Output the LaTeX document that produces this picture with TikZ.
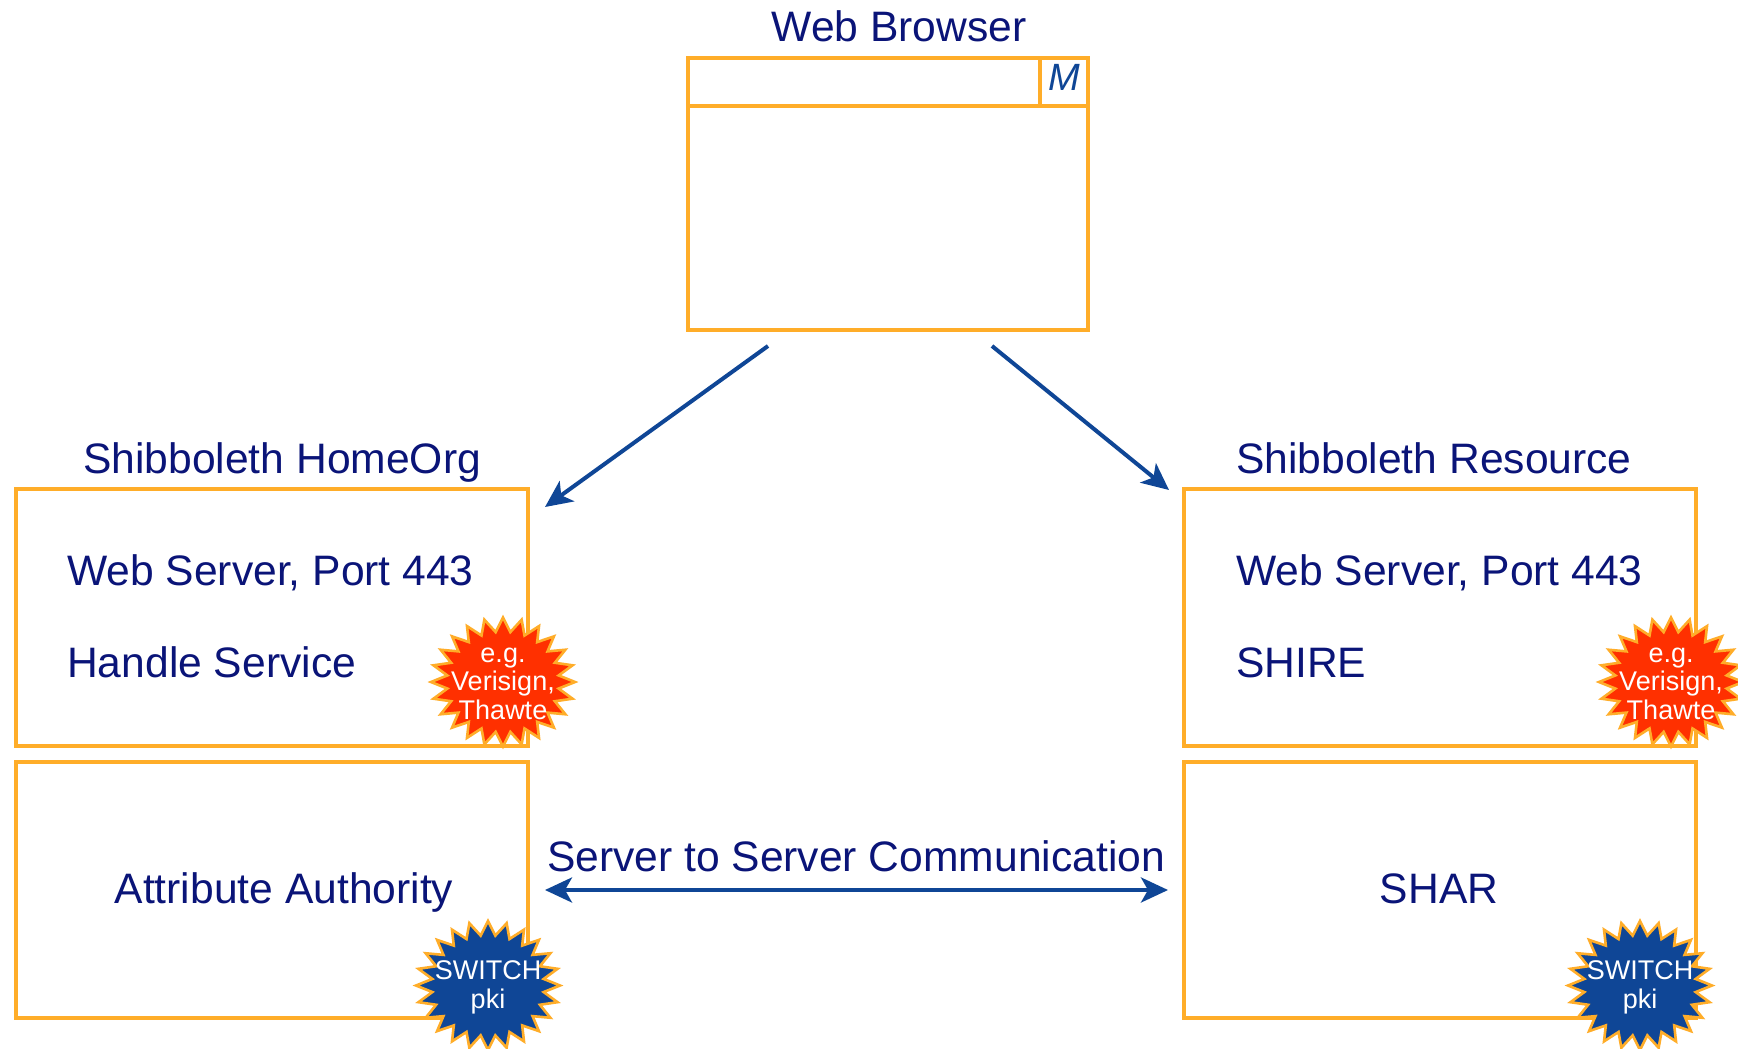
\documentclass[tikz,border=0pt]{standalone}
\usepackage{fontspec}
\setmainfont{Liberation Sans}
\usetikzlibrary{arrows.meta}
\definecolor{orng}{HTML}{FFAD29}
\definecolor{navy}{HTML}{0A1478}
\definecolor{arrowblue}{HTML}{0F4696}
\definecolor{burstred}{HTML}{FF3000}
\tikzset{
  box/.style={draw=orng,line width=4pt,anchor=north west,inner sep=0pt,outer sep=0pt},
  lab/.style={text=navy,font=\fontsize{42.6}{50}\selectfont,inner sep=0pt},
  lableft/.style={lab,anchor=base west},
  labmid/.style={lab,anchor=base},
  link/.style={draw=arrowblue,line width=4pt,-{Stealth[length=27pt,width=25pt,inset=7pt]},shorten >=0pt},
  biglink/.style={link,{Stealth[length=27pt,width=25pt,inset=7pt]}-{Stealth[length=27pt,width=25pt,inset=7pt]}},
  burst/.style={draw=orng,line width=2.6pt,line join=miter,miter limit=10},
  bursttext/.style={text=white,align=center,inner sep=0pt,font=\fontsize{27}{28.5}\selectfont}
}
\newcommand{\burstat}[3]{%
  \draw[burst,fill=#3] plot[samples at={0,...,47},variable=\i]
    ({#1+72*(0.89+0.11*cos(180*\i))*sin(7.5*\i)},{#2-64.5*(0.89+0.11*cos(180*\i))*cos(7.5*\i)}) -- cycle;}
\begin{document}
\begin{tikzpicture}[x=1pt,y=-1pt]
\useasboundingbox[fill=white] (0,0) rectangle (1738,1049);
% browser
\node[box,minimum width=400pt,minimum height=272pt] (browser) at (688,58) {};
\node[box,minimum width=400pt,minimum height=48pt] (titlebar) at (688,58) {};
\node[box,minimum width=48pt,minimum height=48pt] (logo) at (1040,58) {};
\node[text=arrowblue,font=\fontsize{38}{40}\itshape\selectfont,inner sep=0pt,anchor=base] (m) at (1064,90) {M};
\node[labmid] (browserlab) at (899,42) {Web Browser};
% boxes
\node[box,minimum width=512pt,minimum height=257pt] (homeweb) at (15.5,489) {};
\node[box,minimum width=512pt,minimum height=256pt] (homeaa) at (15.5,762) {};
\node[box,minimum width=512pt,minimum height=257pt] (resweb) at (1184,489) {};
\node[box,minimum width=512pt,minimum height=256pt] (resshar) at (1184,762) {};
% labels
\node[lableft] (homelab) at (83,473) {Shibboleth HomeOrg};
\node[lableft] (reslab) at (1236,473) {Shibboleth Resource};
\node[lableft] (hw) at (67,585) {Web Server, Port 443};
\node[lableft] (hs) at (67,677) {Handle Service};
\node[lableft] (rw) at (1236,585) {Web Server, Port 443};
\node[lableft] (rs) at (1236,677) {SHIRE};
\node[labmid] (aa) at (284,903) {Attribute Authority};
\node[labmid] (shar) at (1439,903) {SHAR};
\node[labmid] (s2s) at (856,871) {Server to Server Communication};
% connectors
\coordinate (a1) at (768,346);
\coordinate (a2) at (545,507);
\coordinate (b1) at (992,346);
\coordinate (b2) at (1169,490);
\coordinate (c1) at (545,890);
\coordinate (c2) at (1168,890);
\draw[link] (a1) -- (a2);
\draw[link] (b1) -- (b2);
\draw[biglink] (c1) -- (c2);
% bursts
\burstat{503}{682}{burstred}
\burstat{1671}{682}{burstred}
\burstat{488}{985.5}{arrowblue}
\burstat{1640}{985.5}{arrowblue}
\node[bursttext] (v1) at (503,683.5) {e.g.\\Verisign,\\Thawte};
\node[bursttext] (v2) at (1671,683.5) {e.g.\\Verisign,\\Thawte};
\node[bursttext] (p1) at (488,987.5) {SWITCH\\pki};
\node[bursttext] (p2) at (1640,987.5) {SWITCH\\pki};
\end{tikzpicture}
\end{document}
